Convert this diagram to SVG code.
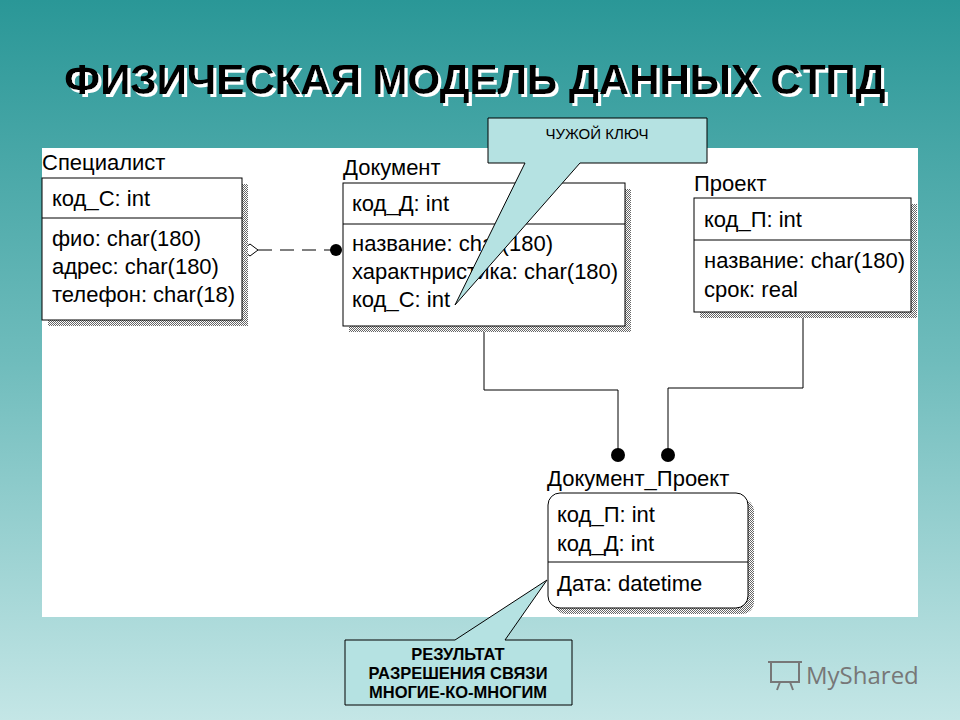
<svg xmlns="http://www.w3.org/2000/svg" width="960" height="720" viewBox="0 0 960 720">
<defs>
<linearGradient id="bg" x1="0" y1="0" x2="0" y2="1">
<stop offset="0" stop-color="#2a9797"/><stop offset="0.5" stop-color="#6fbcbc"/><stop offset="1" stop-color="#c4e6e6"/>
</linearGradient>
<pattern id="hatch" width="2" height="2" patternUnits="userSpaceOnUse"><rect width="2" height="2" fill="#fff"/><rect width="1" height="1" fill="#666"/><rect x="1" y="1" width="1" height="1" fill="#666"/></pattern>
<marker id="dot" viewBox="0 0 10 10" refX="5" refY="5" markerWidth="14" markerHeight="14" markerUnits="userSpaceOnUse"><circle cx="5" cy="5" r="5" fill="#000"/></marker>
<filter id="ds" x="-5%" y="-20%" width="110%" height="140%"><feDropShadow dx="3" dy="3" stdDeviation="0" flood-color="#fff"/></filter>
</defs>
<style>
.box{fill:#fff;stroke:#000;stroke-width:1}
.sh{fill:url(#hatch)}
.t{font-family:"Liberation Sans",Arial,sans-serif;font-size:22px;fill:#000}
.c{font-family:"Liberation Sans",Arial,sans-serif;font-size:16.5px;font-weight:bold;fill:#000;text-anchor:middle}
.ln{fill:none;stroke:#000;stroke-width:1}
.call{fill:#b5e2e2;stroke:#000;stroke-width:1}
</style>
<rect width="960" height="720" fill="url(#bg)"/>
<text x="475" y="94" text-anchor="middle" font-family="Liberation Sans,Arial,sans-serif" font-size="42" font-weight="bold" fill="#000" filter="url(#ds)">ФИЗИЧЕСКАЯ МОДЕЛЬ ДАННЫХ СТПД</text>
<rect x="42" y="148" width="876" height="469" fill="#fff"/>

<g id="connectors">
<path class="ln" d="M258 250 H336" stroke-dasharray="14,8"/>
<path d="M242 250 L250 244 L258 250 L250 256 Z" fill="#fff" stroke="#000"/>
<circle cx="336" cy="250" r="6"/>
<path class="ln" d="M484 326 V390 H618 V455" marker-end="url(#dot)"/>
<path class="ln" d="M803 312 V388 H668 V455" marker-end="url(#dot)"/>
</g>

<g id="specialist">
<rect class="sh" x="48" y="184" width="200" height="142"/>
<rect class="box" x="42" y="178" width="200" height="142"/>
<line class="ln" x1="42" y1="218" x2="242" y2="218"/>
<text class="t" x="42" y="170">Специалист</text>
<text class="t" x="52" y="206">код_С: int</text>
<text class="t" x="52" y="246">фио: char(180)</text>
<text class="t" x="52" y="274">адрес: char(180)</text>
<text class="t" x="52" y="302">телефон: char(18)</text>
</g>

<g id="document">
<rect class="sh" x="349" y="189" width="282" height="143"/>
<rect class="box" x="343" y="183" width="282" height="143"/>
<line class="ln" x1="343" y1="224" x2="625" y2="224"/>
<text class="t" x="343" y="175">Документ</text>
<text class="t" x="352" y="211">код_Д: int</text>
<text class="t" x="352" y="251">название: char(180)</text>
<text class="t" x="352" y="279">характнристика: char(180)</text>
<text class="t" x="352" y="307">код_С: int</text>
</g>

<g id="project">
<rect class="sh" x="700" y="204" width="217" height="114"/>
<rect class="box" x="694" y="198" width="217" height="114"/>
<line class="ln" x1="694" y1="240" x2="911" y2="240"/>
<text class="t" x="694" y="191">Проект</text>
<text class="t" x="704" y="227">код_П: int</text>
<text class="t" x="704" y="268">название: char(180)</text>
<text class="t" x="704" y="297">срок: real</text>
</g>

<g id="docproject">
<rect class="sh" x="554" y="499" width="200" height="115" rx="12"/>
<rect class="box" x="548" y="493" width="200" height="115" rx="12"/>
<line class="ln" x1="548" y1="562" x2="748" y2="562"/>
<text class="t" x="547" y="486">Документ_Проект</text>
<text class="t" x="557" y="522">код_П: int</text>
<text class="t" x="557" y="551">код_Д: int</text>
<text class="t" x="557" y="591">Дата: datetime</text>
</g>

<g id="callout-fk">
<path class="call" d="M488 118 H707 V163 H580 L455 305 L525 163 H488 Z"/>
<text class="c" x="597" y="139" style="font-size:15px;font-weight:normal">ЧУЖОЙ КЛЮЧ</text>
</g>

<g id="callout-result">
<path class="call" d="M345 640 H455 L547 580 L505 640 H572 V705 H345 Z"/>
<text class="c" x="458" y="660">РЕЗУЛЬТАТ</text>
<text class="c" x="458" y="679">РАЗРЕШЕНИЯ СВЯЗИ</text>
<text class="c" x="458" y="698">МНОГИЕ-КО-МНОГИМ</text>
</g>

<g id="logo" fill="none" stroke="#777" stroke-width="2">
<rect x="771" y="662" width="28" height="20"/>
<line x1="768" y1="662" x2="802" y2="662"/>
<line x1="780" y1="682" x2="777" y2="690"/><line x1="790" y1="682" x2="793" y2="690"/>
<text x="806" y="684" font-family="Open Sans,Liberation Sans,sans-serif" font-size="24" fill="#777" stroke="none">MyShared</text>
</g>
</svg>
